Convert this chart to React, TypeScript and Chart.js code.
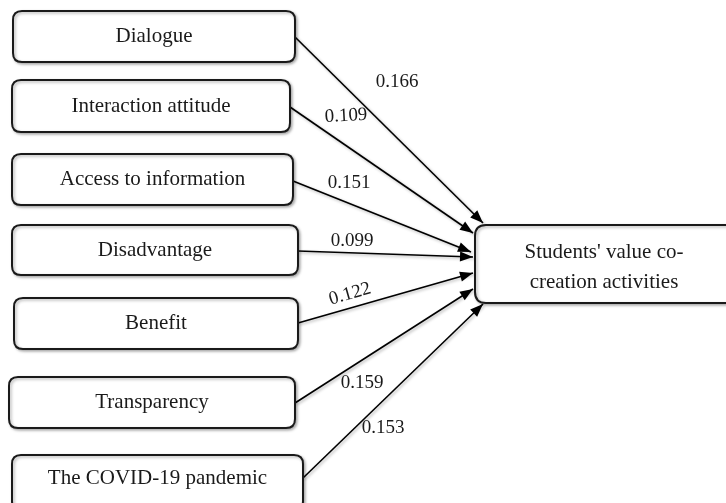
import React, { useEffect, useRef } from "react";
import { Chart, registerables } from "chart.js";

Chart.register(...registerables);

// ---- data ----
const factors = [
  "Dialogue",
  "Interaction attitude",
  "Access to information",
  "Disadvantage",
  "Benefit",
  "Transparency",
  "The COVID-19 pandemic",
];
const coefficients = [0.166, 0.109, 0.151, 0.099, 0.122, 0.159, 0.153];
const outcomeLines = ["Students' value co-", "creation activities"];

// ---- layout (diagram space = pixel-like units) ----
const boxLeft = [13, 12, 12, 12, 14, 9, 12];
const boxRight = [295, 290, 293, 298, 298, 295, 303];
const boxTop = [11, 80, 154, 225, 298, 377, 455];
const boxBottom = [62, 132, 205, 275, 349, 428, 510];
const startY = [37, 107, 181, 251, 323, 403, 478];
const tipX = [483, 473, 471, 473, 473, 473, 483];
const tipY = [223, 233, 252, 257, 273, 289, 304];
const labelX = [397, 346, 349, 352, 350, 362, 383];
const labelY = [82, 116, 183, 241, 294, 383, 428];
const labelRot = [0, -3, 0, 0, -16, 0, 0];
const target = { left: 475, top: 225, right: 745, bottom: 303 };

const FONT = "'Liberation Serif', 'Times New Roman', serif";

export default function App() {
  const ref = useRef<HTMLCanvasElement | null>(null);

  useEffect(() => {
    document.body.style.margin = "0";
    const canvas = ref.current;
    if (!canvas) return;

    const roundRect = (ctx: CanvasRenderingContext2D, x: number, y: number, w: number, h: number, r: number) => {
      ctx.beginPath();
      ctx.moveTo(x + r, y);
      ctx.lineTo(x + w - r, y);
      ctx.quadraticCurveTo(x + w, y, x + w, y + r);
      ctx.lineTo(x + w, y + h - r);
      ctx.quadraticCurveTo(x + w, y + h, x + w - r, y + h);
      ctx.lineTo(x + r, y + h);
      ctx.quadraticCurveTo(x, y + h, x, y + h - r);
      ctx.lineTo(x, y + r);
      ctx.quadraticCurveTo(x, y, x + r, y);
      ctx.closePath();
    };

    const diagram = {
      id: "pathDiagram",
      beforeDatasetsDraw(chart: any) {
        const ctx = chart.ctx as CanvasRenderingContext2D;
        ctx.save();
        ctx.shadowColor = "rgba(0,0,0,0.3)";
        ctx.shadowBlur = 3;
        ctx.shadowOffsetX = 1.5;
        ctx.shadowOffsetY = 1.5;
      },
      afterDatasetsDraw(chart: any) {
        const ctx = chart.ctx as CanvasRenderingContext2D;
        ctx.restore();
        const xs = chart.scales.x;
        const ys = chart.scales.y;
        const px = (v: number) => xs.getPixelForValue(v);
        const py = (v: number) => ys.getPixelForValue(v);

        // arrowheads
        factors.forEach((_, i) => {
          const meta = chart.getDatasetMeta(i);
          const p0 = meta.data[0];
          const p1 = meta.data[1];
          const ang = Math.atan2(p1.y - p0.y, p1.x - p0.x);
          const len = 13;
          const half = 5;
          ctx.save();
          ctx.translate(p1.x, p1.y);
          ctx.rotate(ang);
          ctx.fillStyle = "#000";
          ctx.beginPath();
          ctx.moveTo(0, 0);
          ctx.lineTo(-len, -half);
          ctx.lineTo(-len, half);
          ctx.closePath();
          ctx.fill();
          ctx.restore();
        });

        // boxes
        ctx.save();
        factors.forEach((name, i) => {
          const x0 = px(boxLeft[i]);
          const x1 = px(boxRight[i]);
          const y0 = py(boxTop[i]);
          const y1 = py(boxBottom[i]);
          ctx.shadowColor = "rgba(0,0,0,0.3)";
          ctx.shadowBlur = 3;
          ctx.shadowOffsetX = 1.5;
          ctx.shadowOffsetY = 1.5;
          roundRect(ctx, x0, y0, x1 - x0, y1 - y0, 9);
          ctx.fillStyle = "#fff";
          ctx.fill();
          ctx.lineWidth = 2;
          ctx.strokeStyle = "#1a1a1a";
          ctx.stroke();
          ctx.shadowColor = "transparent";
          ctx.fillStyle = "#1a1a1a";
          ctx.font = `21px ${FONT}`;
          ctx.textAlign = "center";
          ctx.textBaseline = "middle";
          const cy = i === factors.length - 1 ? py(startY[i]) : (y0 + y1) / 2;
          ctx.fillText(name, (x0 + x1) / 2, cy);
        });

        // outcome box
        {
          const x0 = px(target.left);
          const x1 = px(target.right);
          const y0 = py(target.top);
          const y1 = py(target.bottom);
          ctx.shadowColor = "rgba(0,0,0,0.3)";
          ctx.shadowBlur = 3;
          ctx.shadowOffsetX = 1.5;
          ctx.shadowOffsetY = 1.5;
          roundRect(ctx, x0, y0, x1 - x0, y1 - y0, 11);
          ctx.fillStyle = "#fff";
          ctx.fill();
          ctx.lineWidth = 2;
          ctx.strokeStyle = "#1a1a1a";
          ctx.stroke();
          ctx.shadowColor = "transparent";
          ctx.fillStyle = "#1a1a1a";
          ctx.font = `21px ${FONT}`;
          ctx.textAlign = "center";
          ctx.textBaseline = "middle";
          const cx = px(604);
          ctx.fillText(outcomeLines[0], cx, py(252));
          ctx.fillText(outcomeLines[1], cx, py(282));
        }

        // coefficient labels
        coefficients.forEach((c, i) => {
          ctx.save();
          ctx.translate(px(labelX[i]), py(labelY[i]));
          ctx.rotate((labelRot[i] * Math.PI) / 180);
          ctx.fillStyle = "#1a1a1a";
          ctx.font = `19px ${FONT}`;
          ctx.textAlign = "center";
          ctx.textBaseline = "middle";
          ctx.fillText(c.toFixed(3), 0, 0);
          ctx.restore();
        });
        ctx.restore();
      },
    };

    const chart = new Chart(canvas, {
      type: "scatter",
      data: {
        datasets: factors.map((name, i) => ({
          label: name,
          data: [
            { x: boxRight[i], y: startY[i] },
            { x: tipX[i], y: tipY[i] },
          ],
          showLine: true,
          borderColor: "#000",
          borderWidth: 1.6,
          pointRadius: 0,
          fill: false,
        })),
      },
      options: {
        animation: false,
        responsive: true,
        maintainAspectRatio: false,
        layout: { padding: 0 },
        events: [],
        plugins: {
          legend: { display: false },
          tooltip: { enabled: false },
          title: { display: false },
        },
        scales: {
          x: { type: "linear", min: 0, max: 726, display: false },
          y: { type: "linear", min: 0, max: 503, reverse: true, display: false },
        },
      },
      plugins: [diagram],
    });
    return () => chart.destroy();
  }, []);

  return (
    <div style={{ position: "absolute", left: 0, top: 0, width: 726, height: 503, background: "#fff" }}>
      <canvas ref={ref} />
    </div>
  );
}
